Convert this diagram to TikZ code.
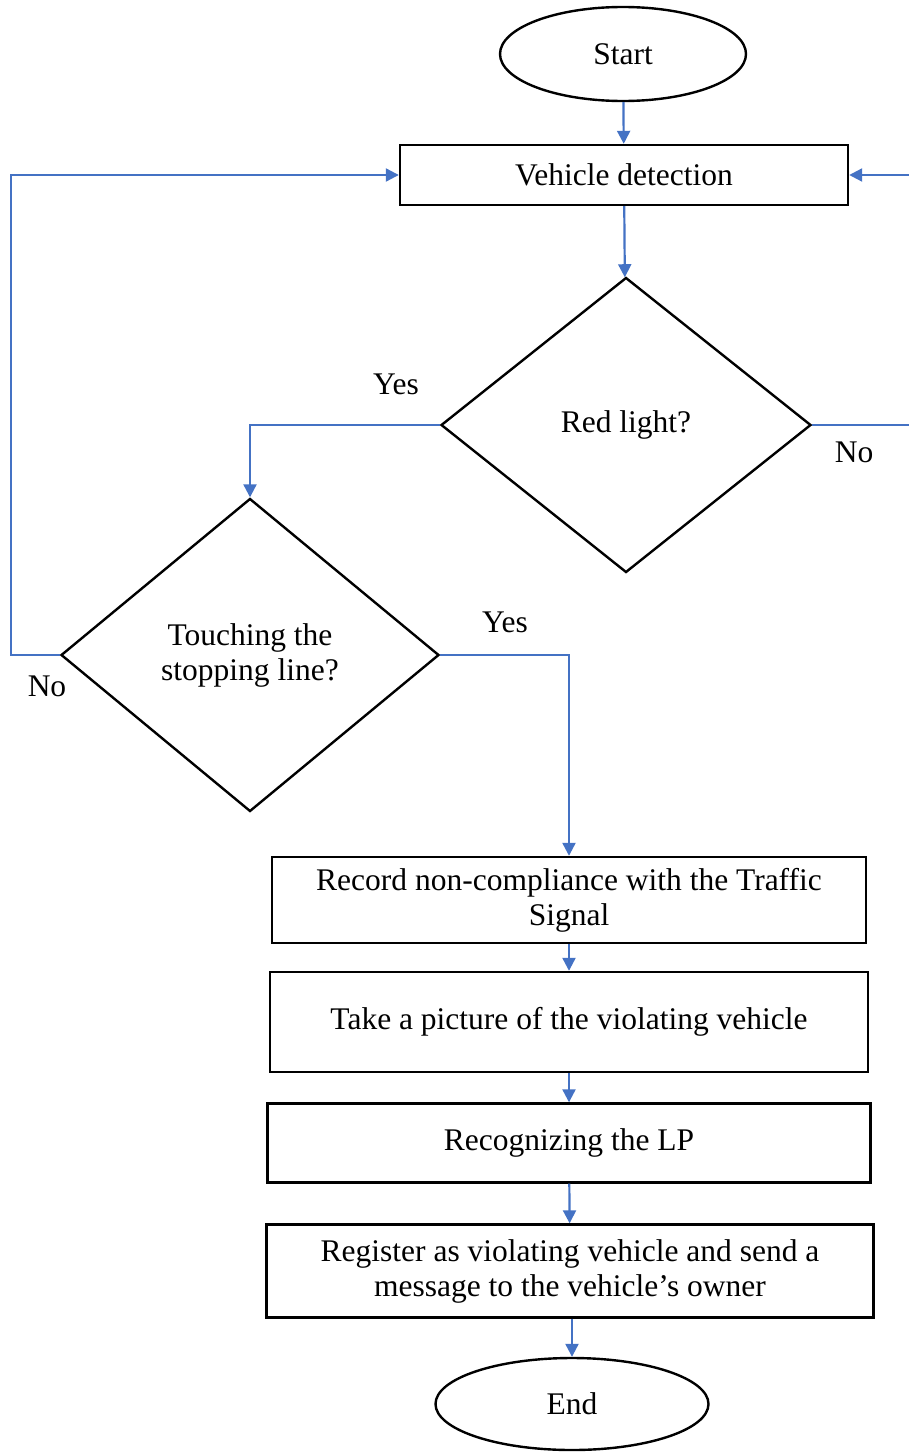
\documentclass[tikz,border=0pt]{standalone}
\usepackage{fontspec}
\setmainfont{Liberation Serif}
\usepackage{xcolor}
\usepackage{tikz}
\usetikzlibrary{arrows.meta}
\usetikzlibrary{shapes.geometric}
\definecolor{flowblue}{RGB}{68,114,196}

\begin{document}
\begin{tikzpicture}[x=1pt,y=-1pt,
		font=\fontsize{31.5}{35}\selectfont,
		procbox/.style={rectangle,draw,line width=2.4pt,inner sep=0pt,align=center},
		termin/.style={ellipse,draw,line width=2.4pt,inner sep=0pt},
		decide/.style={diamond,draw,line width=2.4pt,inner sep=0pt,align=center},
		>={Triangle[length=13pt,width=13pt]}]
				\useasboundingbox (0,0) rectangle (909,1453);
				
				\node[termin,minimum width=246pt,minimum height=94pt] (start) at (623,54) {Start};
				\node[procbox,minimum width=448pt,minimum height=60pt] (vd) at (624,175) {Vehicle detection};
				\node[decide,minimum width=370pt,minimum height=295pt] (red) at (626,425) {Red light?};
				\node[decide,minimum width=378pt,minimum height=313pt] (touch) at (250,655) {Touching the\\stopping line?};
				\node[procbox,minimum width=594pt,minimum height=86pt] (rec) at (569,900) {Record non-compliance with the Traffic\\Signal};
				\node[procbox,minimum width=598pt,minimum height=100pt] (pic) at (569,1022) {Take a picture of the violating vehicle};
				\node[procbox,minimum width=603pt,minimum height=79pt] (lp) at (569,1143) {Recognizing the LP};
				\node[procbox,minimum width=607pt,minimum height=93pt] (reg) at (570,1271) {Register as violating vehicle and send a\\message to the vehicle’s owner};
				\node[termin,minimum width=273pt,minimum height=92pt] (end) at (572,1404) {End};
				
				\node (yesred) at (396,384) {Yes};
				\node (nored) at (854,452) {No};
				\node (yestouch) at (505,622) {Yes};
				\node (notouch) at (47,686) {No};
				
				\begin{scope}[draw=flowblue,line width=2.2pt]
					\draw[->] (start) -- (vd);
					\draw[->] (vd) -- (red);
					\draw[->] (red.west) -| (touch.north);
					\draw[->] (touch.west) -- ++(-49,0) |- (vd.west);
					\draw[->] (red.east) -- ++(98,0) |- (vd.east);
					\draw[->] (touch.east) -| (rec.north);
					\draw[->] (rec) -- (pic);
					\draw[->] (pic) -- (lp);
					\draw[->] (lp) -- (reg);
					\draw[->] (reg.south -| end.north) -- (end);
				\end{scope}
			\end{tikzpicture}
\end{document}
